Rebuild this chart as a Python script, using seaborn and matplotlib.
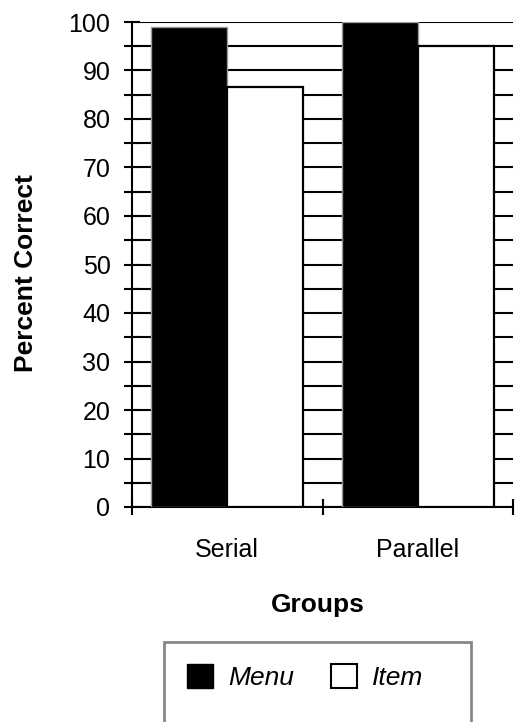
import matplotlib
matplotlib.use("Agg")
import matplotlib.pyplot as plt
import matplotlib.patches as mpatches
from matplotlib.ticker import MultipleLocator, FixedLocator
import seaborn as sns
import pandas as pd

# --- data ---
groups = ["Serial", "Parallel"]
menu_pct = [99, 100]
item_pct = [86.7, 95]
series = ["Menu", "Item"]

df = pd.DataFrame({
    "Groups": groups * 2,
    "Series": [series[0]] * 2 + [series[1]] * 2,
    "Percent": menu_pct + item_pct,
})

sns.set_style("white")
plt.rcParams["font.family"] = ["Liberation Sans", "DejaVu Sans"]
plt.rcParams["text.color"] = "black"

W, H = 516, 722
fig = plt.figure(figsize=(W / 100, H / 100), dpi=100)
ax = fig.add_axes([132 / W, (H - 507) / H, (513 - 132) / W, (507 - 22) / H])

sns.barplot(data=df, x="Groups", y="Percent", hue="Series", order=groups,
            hue_order=series, palette=["black", "white"], width=0.8,
            saturation=1, legend=False, ax=ax, zorder=3)

# bar outlines
for cont, ec, lw in zip(ax.containers, ["#999999", "black"], [1.0, 1.6]):
    for bar in cont:
        bar.set_edgecolor(ec)
        bar.set_linewidth(lw)

ax.set_ylim(0, 100)
ax.set_xlim(-0.5, 1.5)
ax.yaxis.set_major_locator(MultipleLocator(10))
ax.yaxis.set_minor_locator(MultipleLocator(5))
ax.grid(True, axis="y", which="both", color="black", linewidth=1.5, zorder=0)
ax.set_axisbelow(True)
ax.tick_params(axis="y", which="both", left=True, direction="inout", length=11,
               width=1.5, labelsize=18, pad=10, colors="black")

ax.xaxis.set_minor_locator(FixedLocator([-0.5, 0.5, 1.5]))
ax.tick_params(axis="x", which="major", bottom=True, length=0, labelsize=18,
               pad=22, colors="black")
ax.tick_params(axis="x", which="minor", bottom=True, direction="inout", length=11,
               width=1.5, colors="black")

for side in ["top", "right"]:
    ax.spines[side].set_visible(False)
for side in ["left", "bottom"]:
    ax.spines[side].set_color("black")
    ax.spines[side].set_linewidth(1.5)

ax.set_xlabel("")
ax.set_ylabel("")
fig.text(26 / W, 1 - 273 / H, "Percent Correct", rotation=90, ha="center",
         va="center", fontsize=19, fontweight="bold")
fig.text(318 / W, 1 - 612 / H, "Groups", ha="center", va="baseline",
         fontsize=19, fontweight="bold")

# legend box (runs off the bottom of the figure like the reference)
box = mpatches.Rectangle((164 / W, 0 - 10 / H), (471 - 164) / W, (722 - 642 + 10) / H,
                         transform=fig.transFigure, facecolor="white",
                         edgecolor="#888888", linewidth=2, clip_on=False)
fig.patches.append(box)

handles = [mpatches.Patch(facecolor="black", edgecolor="black"),
           mpatches.Patch(facecolor="white", edgecolor="black", linewidth=1.5)]
fig.legend(handles, series, loc="center left", bbox_to_anchor=(187 / W, 1 - 677 / H),
           ncol=2, frameon=False, prop={"style": "italic", "size": 19},
           handlelength=1.0, handleheight=1.0, handletextpad=0.55, columnspacing=1.4,
           borderpad=0, borderaxespad=0)

fig.savefig("out.png", dpi=100)
